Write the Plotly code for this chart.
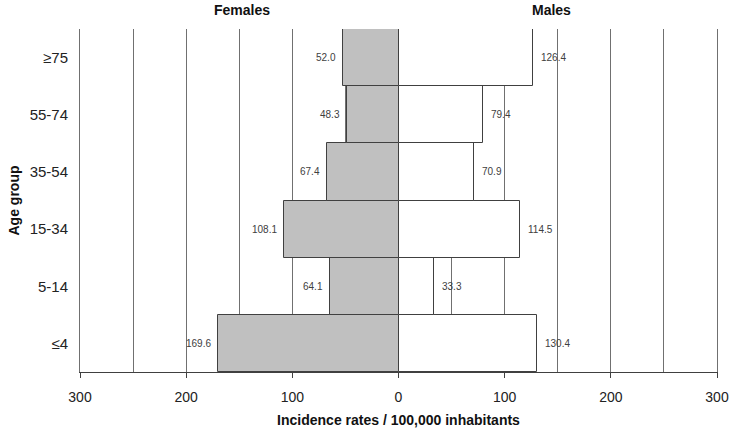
import plotly.graph_objects as go

age_groups = ["≤4", "5-14", "15-34", "35-54", "55-74", "≥75"]
females = [169.6, 64.1, 108.1, 67.4, 48.3, 52.0]
males = [130.4, 33.3, 114.5, 70.9, 79.4, 126.4]
tick_values = [-300, -200, -100, 0, 100, 200, 300]
tick_labels = ["300", "200", "100", "0", "100", "200", "300"]

FONT = "Liberation Sans, Arial, sans-serif"
LINE = "#404040"
GRID = "#707070"
VAL = "#404040"

fig = go.Figure()
fig.add_trace(go.Bar(
    y=age_groups, x=[-v for v in females], orientation="h", name="Females",
    marker=dict(color="#c0c0c0", line=dict(color=LINE, width=1)),
    hoverinfo="skip",
))
fig.add_trace(go.Bar(
    y=age_groups, x=males, orientation="h", name="Males",
    marker=dict(color="#ffffff", line=dict(color=LINE, width=1)),
    hoverinfo="skip",
))

annotations = []
for g, v in zip(age_groups, females):
    annotations.append(dict(text=f"{v:.1f}", x=-v, y=g, xref="x", yref="y",
                            xanchor="right", xshift=-5, showarrow=False,
                            font=dict(size=10, color=VAL)))
for g, v in zip(age_groups, males):
    annotations.append(dict(text=f"{v:.1f}", x=v, y=g, xref="x", yref="y",
                            xanchor="left", xshift=6, showarrow=False,
                            font=dict(size=10, color=VAL)))
annotations += [
    dict(text="<b>Females</b>", x=-147, xref="x", y=1, yref="paper",
         yanchor="bottom", yshift=9, showarrow=False,
         font=dict(size=14, color="#111111")),
    dict(text="<b>Males</b>", x=144, xref="x", y=1, yref="paper",
         yanchor="bottom", yshift=9, showarrow=False,
         font=dict(size=14, color="#111111")),
    dict(text="<b>Age group</b>", x=0, xref="paper", y=0.5, yref="paper",
         xanchor="center", yanchor="middle", xshift=-67, textangle=-90,
         showarrow=False, font=dict(size=14, color="#111111")),
]

fig.update_layout(
    width=734, height=430,
    margin=dict(l=80, r=17, t=29, b=58),
    barmode="overlay", bargap=0,
    showlegend=False,
    plot_bgcolor="white", paper_bgcolor="white",
    font=dict(family=FONT, size=13, color="#222222"),
    xaxis=dict(
        range=[-300, 300], tickvals=tick_values, ticktext=tick_labels,
        ticks="outside", ticklen=5, tickcolor=LINE, tickwidth=1,
        showline=True, linecolor=LINE, linewidth=1,
        showgrid=True, gridcolor=GRID, gridwidth=1,
        zeroline=False, automargin=False, ticklabelstandoff=7,
        minor=dict(dtick=50, tick0=0, showgrid=True, gridcolor=GRID, gridwidth=1, ticks=""),
        tickfont=dict(size=14, color="#222222"),
        title=dict(text="<b>Incidence rates / 100,000 inhabitants</b>",
                   font=dict(size=14, color="#111111"), standoff=11),
    ),
    yaxis=dict(
        categoryorder="array", categoryarray=age_groups,
        range=[-0.5, 5.5], automargin=False,
        showline=True, mirror=True, linecolor=GRID, linewidth=1,
        showgrid=False, ticks="", ticklabelstandoff=8,
        tickfont=dict(size=15, color="#222222"),
    ),
    annotations=annotations,
)

# remove the default 8px page margin so the figure fills the window exactly
fig.write_html("out.html", config={"displayModeBar": False},
               post_script="document.body.style.margin='0';")
